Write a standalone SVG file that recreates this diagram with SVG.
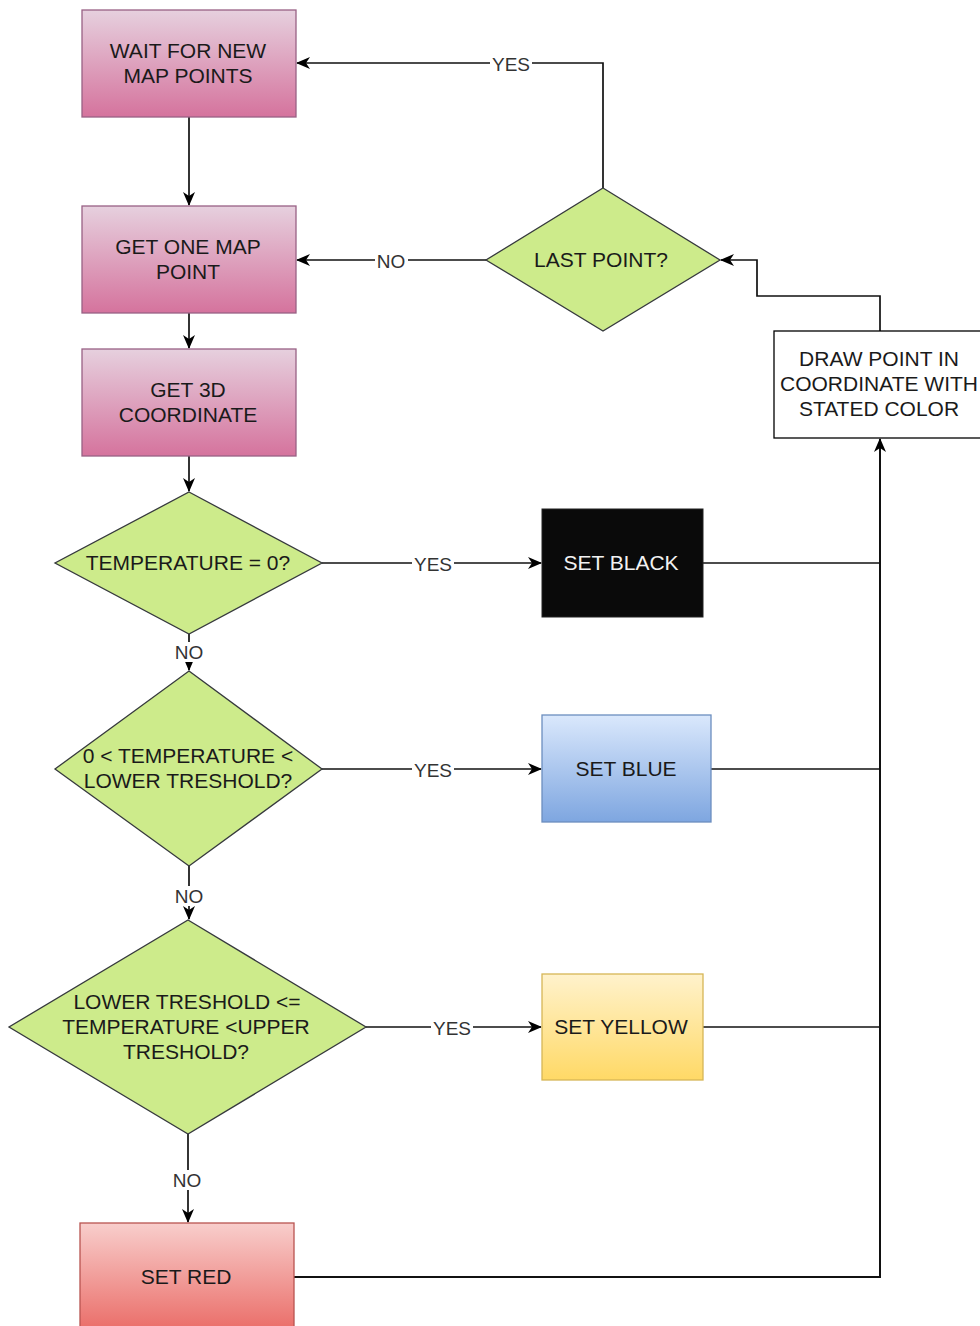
<svg xmlns="http://www.w3.org/2000/svg" width="980" height="1326" viewBox="0 0 980 1326">
  <style>
    .txt { font-family: "Liberation Sans", Arial, sans-serif; font-size: 21px; fill: #1a1a1a; text-anchor: middle; dominant-baseline: central; }
    .lbl { font-family: "Liberation Sans", Arial, sans-serif; font-size: 19px; fill: #333333; text-anchor: middle; dominant-baseline: central; }
    .edge { fill: none; stroke: #111111; stroke-width: 1.7; }
    .dec { fill: #cdeb8b; stroke: #36393d; stroke-width: 1.3; }
    .pink { fill: url(#gPink); stroke: #996185; stroke-width: 1.3; }
  </style>
  <defs>
    <linearGradient id="gPink" x1="0" y1="0" x2="0" y2="1">
      <stop offset="0" stop-color="#e6d0de"/>
      <stop offset="1" stop-color="#d5739d"/>
    </linearGradient>
    <linearGradient id="gBlue" x1="0" y1="0" x2="0" y2="1">
      <stop offset="0" stop-color="#dae8fc"/>
      <stop offset="1" stop-color="#7ea6e0"/>
    </linearGradient>
    <linearGradient id="gYellow" x1="0" y1="0" x2="0" y2="1">
      <stop offset="0" stop-color="#fff2cc"/>
      <stop offset="1" stop-color="#ffd966"/>
    </linearGradient>
    <linearGradient id="gRed" x1="0" y1="0" x2="0" y2="1">
      <stop offset="0" stop-color="#f8cecc"/>
      <stop offset="1" stop-color="#ea6b66"/>
    </linearGradient>
    <marker id="arrow" viewBox="0 0 14 12" refX="13" refY="6" markerWidth="14" markerHeight="12" markerUnits="userSpaceOnUse" orient="auto">
      <path d="M0,0 L14,6 L0,12 L4,6 z" fill="#000000"/>
    </marker>
  </defs>

  <!-- connectors -->
  <g id="connectors">
    <path class="edge" d="M189,117 V205" marker-end="url(#arrow)"/>
    <path class="edge" d="M189,313 V348" marker-end="url(#arrow)"/>
    <path class="edge" d="M189,456 V491" marker-end="url(#arrow)"/>
    <path class="edge" d="M189,634 V670" marker-end="url(#arrow)"/>
    <path class="edge" d="M189,866 V919" marker-end="url(#arrow)"/>
    <path class="edge" d="M188,1134 V1222" marker-end="url(#arrow)"/>
    <path class="edge" d="M322,563 H541" marker-end="url(#arrow)"/>
    <path class="edge" d="M322,769 H541" marker-end="url(#arrow)"/>
    <path class="edge" d="M366,1027 H541" marker-end="url(#arrow)"/>
    <path class="edge" d="M703,563 H880"/>
    <path class="edge" d="M711,769 H880"/>
    <path class="edge" d="M703,1027 H880"/>
    <path class="edge" d="M294,1277 H880 V439" marker-end="url(#arrow)" style="stroke-width:2"/>
    <path class="edge" d="M880,331 V296 H757 V260 H721" marker-end="url(#arrow)"/>
    <path class="edge" d="M486,260 H297" marker-end="url(#arrow)"/>
    <path class="edge" d="M603,188 V63 H297" marker-end="url(#arrow)"/>

    <!-- edge labels -->
    <rect x="490" y="53" width="42" height="20" fill="#ffffff"/>
    <text class="lbl" x="511" y="64">YES</text>
    <rect x="375" y="250" width="33" height="20" fill="#ffffff"/>
    <text class="lbl" x="391" y="261">NO</text>
    <rect x="412" y="553" width="42" height="20" fill="#ffffff"/>
    <text class="lbl" x="433" y="564">YES</text>
    <rect x="412" y="759" width="42" height="20" fill="#ffffff"/>
    <text class="lbl" x="433" y="770">YES</text>
    <rect x="431" y="1017" width="42" height="20" fill="#ffffff"/>
    <text class="lbl" x="452" y="1028">YES</text>
    <rect x="172" y="642" width="33" height="20" fill="#ffffff"/>
    <text class="lbl" x="189" y="652">NO</text>
    <rect x="172" y="886" width="33" height="20" fill="#ffffff"/>
    <text class="lbl" x="189" y="896">NO</text>
    <rect x="171" y="1170" width="33" height="20" fill="#ffffff"/>
    <text class="lbl" x="187" y="1180">NO</text>
  </g>

  <!-- process boxes -->
  <g id="wait-new-points">
    <rect class="pink" x="82" y="10" width="214" height="107"/>
    <text class="txt" x="188" y="50">WAIT FOR NEW</text>
    <text class="txt" x="188" y="75">MAP POINTS</text>
  </g>
  <g id="get-map-point">
    <rect class="pink" x="82" y="206" width="214" height="107"/>
    <text class="txt" x="188" y="246">GET ONE MAP</text>
    <text class="txt" x="188" y="271">POINT</text>
  </g>
  <g id="get-3d-coordinate">
    <rect class="pink" x="82" y="349" width="214" height="107"/>
    <text class="txt" x="188" y="389">GET 3D</text>
    <text class="txt" x="188" y="414">COORDINATE</text>
  </g>

  <!-- decisions -->
  <g id="temp-zero">
    <polygon class="dec" points="189,492 322,563 189,634 55,563"/>
    <text class="txt" x="188" y="562">TEMPERATURE = 0?</text>
  </g>
  <g id="temp-below-lower">
    <polygon class="dec" points="189,671 322,769 189,866 55,769"/>
    <text class="txt" x="188" y="755">0 &lt; TEMPERATURE &lt;</text>
    <text class="txt" x="188" y="780">LOWER TRESHOLD?</text>
  </g>
  <g id="temp-between">
    <polygon class="dec" points="188,920 366,1027 188,1134 9,1027"/>
    <text class="txt" x="187" y="1001">LOWER TRESHOLD &lt;=</text>
    <text class="txt" x="186" y="1026">TEMPERATURE &lt;UPPER</text>
    <text class="txt" x="186" y="1051">TRESHOLD?</text>
  </g>
  <g id="last-point">
    <polygon class="dec" points="603,188 720,260 603,331 486,260"/>
    <text class="txt" x="601" y="259">LAST POINT?</text>
  </g>

  <!-- colour setters -->
  <g id="set-black">
    <rect x="542" y="509" width="161" height="108" fill="#0a0a0a" stroke="#222222" stroke-width="1"/>
    <text class="txt" x="621" y="562" style="fill:#f2f2f2">SET BLACK</text>
  </g>
  <g id="set-blue">
    <rect x="542" y="715" width="169" height="107" fill="url(#gBlue)" stroke="#6c8ebf" stroke-width="1.3"/>
    <text class="txt" x="626" y="768">SET BLUE</text>
  </g>
  <g id="set-yellow">
    <rect x="542" y="974" width="161" height="106" fill="url(#gYellow)" stroke="#d6b656" stroke-width="1.3"/>
    <text class="txt" x="621" y="1026">SET YELLOW</text>
  </g>
  <g id="set-red">
    <rect x="80" y="1223" width="214" height="110" fill="url(#gRed)" stroke="#b85450" stroke-width="1.3"/>
    <text class="txt" x="186" y="1276">SET RED</text>
  </g>

  <!-- drawing step -->
  <g id="draw-point">
    <rect x="774" y="331" width="212" height="107" fill="#ffffff" stroke="#000000" stroke-width="1.3"/>
    <text class="txt" x="879" y="358">DRAW POINT IN</text>
    <text class="txt" x="879" y="383">COORDINATE WITH</text>
    <text class="txt" x="879" y="408">STATED COLOR</text>
  </g>
</svg>
